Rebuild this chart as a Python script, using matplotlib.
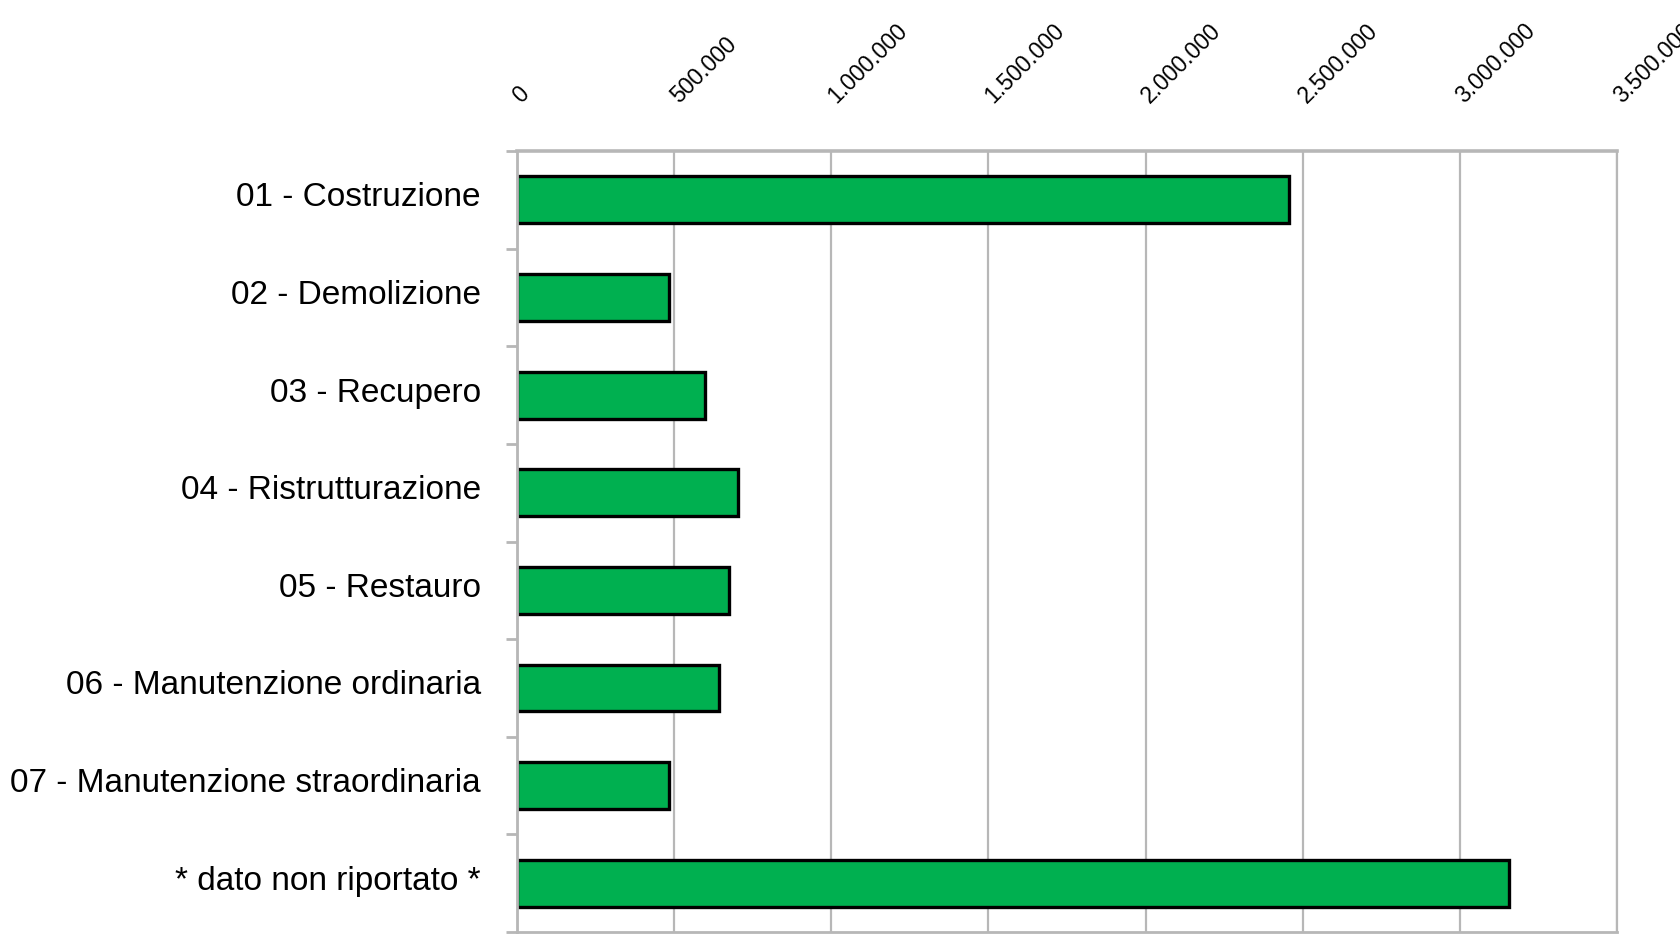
import matplotlib.pyplot as plt
import matplotlib.transforms as mtransforms
from matplotlib.ticker import FixedLocator

# data
categories = ["01 - Costruzione", "02 - Demolizione", "03 - Recupero",
              "04 - Ristrutturazione", "05 - Restauro",
              "06 - Manutenzione ordinaria", "07 - Manutenzione straordinaria",
              "* dato non riportato *"]
values = [2455000, 483000, 599000, 704000, 674000, 643000, 483000, 3155000]
xticks = [0, 500000, 1000000, 1500000, 2000000, 2500000, 3000000, 3500000]

plt.rcParams['font.family'] = ['Liberation Sans', 'DejaVu Sans']

fig = plt.figure(figsize=(16.8, 9.38), dpi=100)
ax = fig.add_axes([0.3077, 0.0064, 0.6548, 0.8326])

grey = '#B7B7B7'
pos = list(range(len(categories)))
ax.barh(pos, values, height=0.48, color='#00B050', edgecolor='black',
        linewidth=2.4, zorder=3)

ax.set_xlim(0, 3500000)
ax.set_ylim(len(categories) - 0.5, -0.5)

# x axis on top, rotated labels
ax.xaxis.tick_top()
ax.set_xticks(xticks)
ax.set_xticklabels([f"{v:,}".replace(",", ".") for v in xticks])
ax.tick_params(axis='x', length=0, pad=37, labelsize=16.5)
for lab in ax.get_xticklabels():
    lab.set_rotation(45)
    lab.set_ha('left')
    lab.set_va('center')
    lab.set_rotation_mode('anchor')
ax.xaxis.grid(True, color=grey, linewidth=1.6, zorder=0)
ax.set_axisbelow(True)

# categories with separator ticks
ax.set_yticks(pos)
ax.set_yticklabels(categories)
ax.tick_params(axis='y', which='major', length=0, pad=26, labelsize=24)
shift = mtransforms.ScaledTranslation(0, 4 / 72, fig.dpi_scale_trans)
for lab in ax.get_yticklabels():
    lab.set_transform(lab.get_transform() + shift)
ax.yaxis.set_minor_locator(FixedLocator([p + 0.5 for p in pos[:-1]] + [-0.5, len(categories) - 0.5]))
ax.tick_params(axis='y', which='minor', length=8, width=2, color=grey, direction='out')

for s in ['top', 'bottom', 'left', 'right']:
    ax.spines[s].set_color(grey)
    ax.spines[s].set_linewidth(2.0)
    ax.spines[s].set_zorder(4)
ax.spines['top'].set_linewidth(2.6)
ax.spines['right'].set_linewidth(1.6)

fig.savefig('out.png', dpi=100)
